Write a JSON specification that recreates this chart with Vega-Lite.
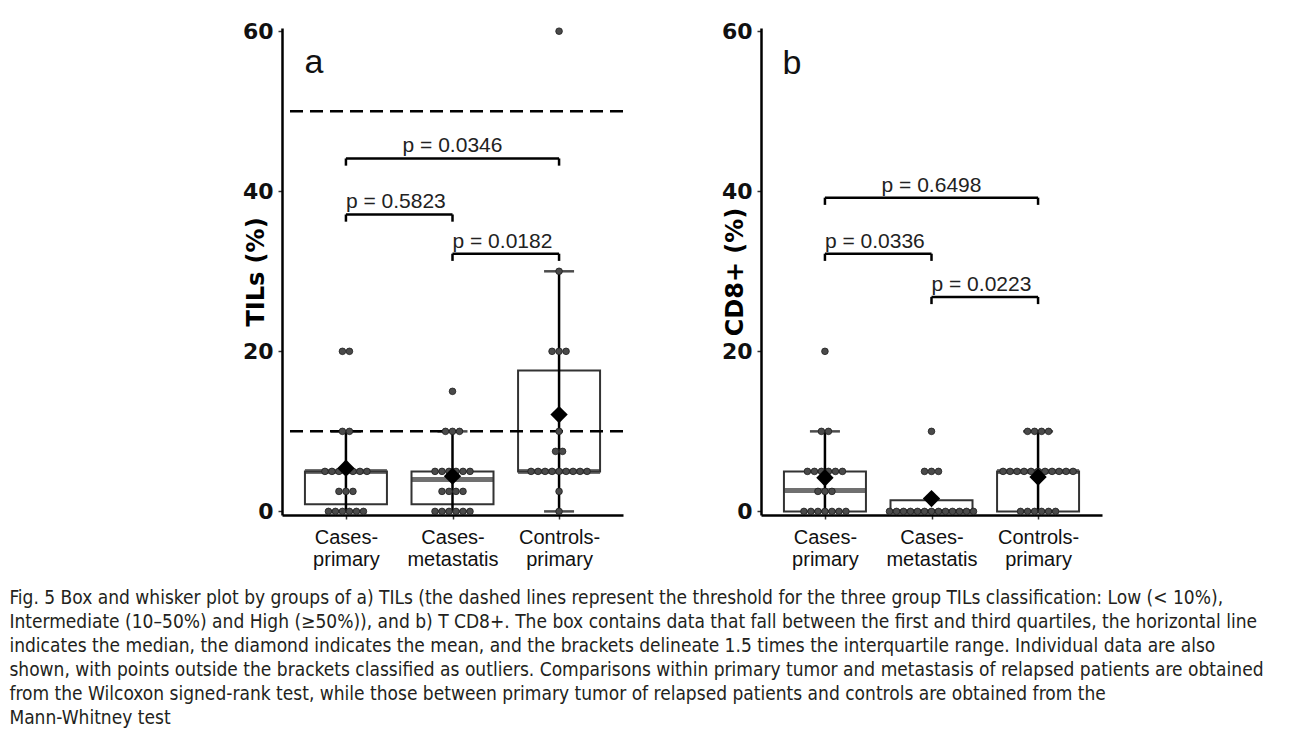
{
  "$schema": "https://vega.github.io/schema/vega-lite/v6.json",
  "background": "white",
  "padding": {"left": 9, "top": 20, "right": 5, "bottom": 5},
  "datasets": {
    "pts": [
      {"p": "a", "g": "Cases-primary", "v": [20, 20, 10, 10, 5, 5, 5, 5, 5, 5, 5, 2.5, 2.5, 2.5, 0, 0, 0, 0, 0, 0]},
      {"p": "a", "g": "Cases-metastatis", "v": [15, 10, 10, 10, 5, 5, 5, 5, 5, 5, 2.5, 2.5, 2.5, 2.5, 0, 0, 0, 0, 0, 0]},
      {"p": "a", "g": "Controls-primary", "v": [60, 30, 20, 20, 20, 10, 7.5, 7.5, 5, 5, 5, 5, 5, 5, 5, 5, 5, 2.5, 0]},
      {"p": "b", "g": "Cases-primary", "v": [20, 10, 10, 5, 5, 5, 5, 5, 5, 2.5, 2.5, 2.5, 0, 0, 0, 0, 0, 0, 0]},
      {"p": "b", "g": "Cases-metastatis", "v": [10, 5, 5, 5, 0, 0, 0, 0, 0, 0, 0, 0, 0, 0, 0, 0, 0]},
      {"p": "b", "g": "Controls-primary", "v": [10, 10, 10, 10, 5, 5, 5, 5, 5, 5, 5, 5, 5, 5, 5, 0, 0, 0, 0, 0, 0]}
    ],
    "box": [
      {"p": "a", "g": "Cases-primary", "q1": 0.9, "q3": 5, "med": 5, "mean": 5.4, "lo": 0, "hi": 10},
      {"p": "a", "g": "Cases-metastatis", "q1": 0.9, "q3": 5, "med": 4, "mean": 4.4, "lo": 0, "hi": 10},
      {"p": "a", "g": "Controls-primary", "q1": 5, "q3": 17.6, "med": 5, "mean": 12.1, "lo": 0, "hi": 30},
      {"p": "b", "g": "Cases-primary", "q1": 0, "q3": 5, "med": 2.6, "mean": 4.2, "lo": 0, "hi": 10},
      {"p": "b", "g": "Cases-metastatis", "q1": 0, "q3": 1.4, "med": 0, "mean": 1.6, "lo": 0, "hi": 0},
      {"p": "b", "g": "Controls-primary", "q1": 0, "q3": 5, "med": 5, "mean": 4.3, "lo": 0, "hi": 10}
    ],
    "br": [
      {"p": "a", "from": "Cases-primary", "to": "Controls-primary", "at": "Cases-metastatis", "y": 44.1, "tip": 43.2, "label": "p = 0.0346", "span": "wide"},
      {"p": "a", "from": "Cases-primary", "to": "Cases-metastatis", "at": "Cases-primary", "y": 37.1, "tip": 36.2, "label": "p = 0.5823", "span": "adjacent"},
      {"p": "a", "from": "Cases-metastatis", "to": "Controls-primary", "at": "Cases-metastatis", "y": 32.2, "tip": 31.3, "label": "p = 0.0182", "span": "adjacent"},
      {"p": "b", "from": "Cases-primary", "to": "Controls-primary", "at": "Cases-metastatis", "y": 39.2, "tip": 38.3, "label": "p = 0.6498", "span": "wide"},
      {"p": "b", "from": "Cases-primary", "to": "Cases-metastatis", "at": "Cases-primary", "y": 32.2, "tip": 31.3, "label": "p = 0.0336", "span": "adjacent"},
      {"p": "b", "from": "Cases-metastatis", "to": "Controls-primary", "at": "Cases-metastatis", "y": 26.8, "tip": 25.9, "label": "p = 0.0223", "span": "adjacent"}
    ]
  },
  "title": {
    "text": [
      "Fig. 5 Box and whisker plot by groups of a) TILs (the dashed lines represent the threshold for the three group TILs classification: Low (< 10%),",
      "Intermediate (10–50%) and High (≥50%)), and b) T CD8+. The box contains data that fall between the first and third quartiles, the horizontal line",
      "indicates the median, the diamond indicates the mean, and the brackets delineate 1.5 times the interquartile range. Individual data are also",
      "shown, with points outside the brackets classified as outliers. Comparisons within primary tumor and metastasis of relapsed patients are obtained",
      "from the Wilcoxon signed-rank test, while those between primary tumor of relapsed patients and controls are obtained from the",
      "Mann-Whitney test"
    ],
    "orient": "bottom",
    "anchor": "start",
    "frame": "bounds",
    "dx": -233,
    "offset": 20,
    "font": "DejaVu Sans Condensed",
    "fontSize": 19,
    "fontWeight": "normal",
    "lineHeight": 24,
    "color": "#231f20"
  },
  "spacing": 96,
  "hconcat": [
    {
      "width": 341,
      "height": 487,
      "layer": [
        {
          "data": {"name": "box"},
          "transform": [{"filter": "datum.p == 'a'"}],
          "mark": {"type": "bar", "width": 82, "fill": "white", "stroke": "#333", "strokeWidth": 2},
          "encoding": {
            "x": {"field": "g", "type": "nominal", "title": null,
              "scale": {"type": "point", "padding": 0.6, "domain": ["Cases-primary", "Cases-metastatis", "Controls-primary"]},
              "axis": {"labelExpr": "datum.label == 'Cases-primary' ? ['Cases-', 'primary'] : datum.label == 'Cases-metastatis' ? ['Cases-', 'metastatis'] : ['Controls-', 'primary']"}},
            "y": {"field": "q1", "type": "quantitative", "title": "TILs (%)",
              "scale": {"domain": [-0.45, 60.4], "nice": false, "zero": false},
              "axis": {"values": [0, 20, 40, 60]}},
            "y2": {"field": "q3"}
          }
        },
        {
          "data": {"values": [{"t": 10}, {"t": 50}]},
          "mark": {"type": "rule", "strokeDash": [13, 7], "strokeWidth": 2.5, "color": "#000"},
          "encoding": {"y": {"field": "t", "type": "quantitative", "title": "TILs (%)"}}
        },
        {
          "data": {"name": "box"},
          "transform": [{"filter": "datum.p == 'a'"}],
          "mark": {"type": "rule", "strokeWidth": 2.5, "color": "#000"},
          "encoding": {
            "x": {"field": "g", "type": "nominal", "title": null},
            "y": {"field": "lo", "type": "quantitative", "title": "TILs (%)"},
            "y2": {"field": "hi"}
          }
        },
        {
          "data": {"name": "box"},
          "transform": [{"filter": "datum.p == 'a'"}, {"fold": ["lo", "hi"], "as": ["end", "cap"]}],
          "mark": {"type": "tick", "orient": "horizontal", "size": 30, "thickness": 2.5, "color": "#000"},
          "encoding": {
            "x": {"field": "g", "type": "nominal", "title": null},
            "y": {"field": "cap", "type": "quantitative", "title": "TILs (%)"}
          }
        },
        {
          "data": {"name": "box"},
          "transform": [{"filter": "datum.p == 'a'"}],
          "mark": {"type": "tick", "orient": "horizontal", "size": 82, "thickness": 5, "color": "#333"},
          "encoding": {
            "x": {"field": "g", "type": "nominal", "title": null},
            "y": {"field": "med", "type": "quantitative", "title": "TILs (%)"}
          }
        },
        {
          "data": {"name": "pts"},
          "transform": [
            {"filter": "datum.p == 'a'"},
            {"flatten": ["v"]},
            {"window": [{"op": "row_number", "as": "k"}], "groupby": ["g", "v"]},
            {"joinaggregate": [{"op": "count", "as": "n"}], "groupby": ["g", "v"]},
            {"calculate": "datum.k - (datum.n + 1) / 2", "as": "off"}
          ],
          "mark": {"type": "circle", "size": 44, "fill": "#4a4a4a", "stroke": "#1e1e1e", "strokeWidth": 0.8, "opacity": 1},
          "encoding": {
            "x": {"field": "g", "type": "nominal", "title": null},
            "xOffset": {"field": "off", "type": "quantitative", "scale": {"domain": [-10, 10], "range": [-70, 70]}},
            "y": {"field": "v", "type": "quantitative", "title": "TILs (%)"}
          }
        },
        {
          "data": {"name": "box"},
          "transform": [{"filter": "datum.p == 'a'"}],
          "mark": {"type": "point", "shape": "diamond", "filled": true, "size": 300, "color": "#000", "opacity": 1},
          "encoding": {
            "x": {"field": "g", "type": "nominal", "title": null},
            "y": {"field": "mean", "type": "quantitative", "title": "TILs (%)"}
          }
        },
        {
          "data": {"name": "br"},
          "transform": [{"filter": "datum.p == 'a'"}],
          "mark": {"type": "rule", "strokeWidth": 2.5, "color": "#000"},
          "encoding": {
            "x": {"field": "from", "type": "nominal", "title": null},
            "x2": {"field": "to"},
            "y": {"field": "y", "type": "quantitative", "title": "TILs (%)"}
          }
        },
        {
          "data": {"name": "br"},
          "transform": [{"filter": "datum.p == 'a'"}, {"fold": ["from", "to"], "as": ["side", "cat"]}],
          "mark": {"type": "rule", "strokeWidth": 2.5, "color": "#000"},
          "encoding": {
            "x": {"field": "cat", "type": "nominal", "title": null},
            "y": {"field": "y", "type": "quantitative", "title": "TILs (%)"},
            "y2": {"field": "tip"}
          }
        },
        {
          "data": {"name": "br"},
          "transform": [{"filter": "datum.p == 'a' && datum.span == 'wide'"}],
          "mark": {"type": "text", "align": "center", "baseline": "alphabetic", "dy": -6, "fontSize": 21, "font": "Liberation Sans", "color": "#222"},
          "encoding": {
            "x": {"field": "at", "type": "nominal", "title": null},
            "y": {"field": "y", "type": "quantitative", "title": "TILs (%)"},
            "text": {"field": "label"}
          }
        },
        {
          "data": {"name": "br"},
          "transform": [{"filter": "datum.p == 'a' && datum.span == 'adjacent'"}],
          "mark": {"type": "text", "align": "left", "baseline": "alphabetic", "dy": -6, "fontSize": 21, "font": "Liberation Sans", "color": "#222"},
          "encoding": {
            "x": {"field": "at", "type": "nominal", "title": null},
            "y": {"field": "y", "type": "quantitative", "title": "TILs (%)"},
            "text": {"field": "label"}
          }
        },
        {
          "data": {"values": [{"letter": "a", "g": "Cases-primary", "y": 54.8}]},
          "mark": {"type": "text", "align": "center", "baseline": "alphabetic", "dx": -32, "fontSize": 34, "font": "Liberation Sans", "color": "#111"},
          "encoding": {
            "x": {"field": "g", "type": "nominal", "title": null},
            "y": {"field": "y", "type": "quantitative", "title": "TILs (%)"},
            "text": {"field": "letter"}
          }
        }
      ]
    },
    {
      "width": 341,
      "height": 487,
      "layer": [
        {
          "data": {"name": "box"},
          "transform": [{"filter": "datum.p == 'b'"}],
          "mark": {"type": "bar", "width": 82, "fill": "white", "stroke": "#333", "strokeWidth": 2},
          "encoding": {
            "x": {"field": "g", "type": "nominal", "title": null,
              "scale": {"type": "point", "padding": 0.6, "domain": ["Cases-primary", "Cases-metastatis", "Controls-primary"]},
              "axis": {"labelExpr": "datum.label == 'Cases-primary' ? ['Cases-', 'primary'] : datum.label == 'Cases-metastatis' ? ['Cases-', 'metastatis'] : ['Controls-', 'primary']"}},
            "y": {"field": "q1", "type": "quantitative", "title": "CD8+ (%)",
              "scale": {"domain": [-0.45, 60.4], "nice": false, "zero": false},
              "axis": {"values": [0, 20, 40, 60]}},
            "y2": {"field": "q3"}
          }
        },
        {
          "data": {"name": "box"},
          "transform": [{"filter": "datum.p == 'b'"}],
          "mark": {"type": "rule", "strokeWidth": 2.5, "color": "#000"},
          "encoding": {
            "x": {"field": "g", "type": "nominal", "title": null},
            "y": {"field": "lo", "type": "quantitative", "title": "CD8+ (%)"},
            "y2": {"field": "hi"}
          }
        },
        {
          "data": {"name": "box"},
          "transform": [{"filter": "datum.p == 'b'"}, {"fold": ["lo", "hi"], "as": ["end", "cap"]}],
          "mark": {"type": "tick", "orient": "horizontal", "size": 30, "thickness": 2.5, "color": "#000"},
          "encoding": {
            "x": {"field": "g", "type": "nominal", "title": null},
            "y": {"field": "cap", "type": "quantitative", "title": "CD8+ (%)"}
          }
        },
        {
          "data": {"name": "box"},
          "transform": [{"filter": "datum.p == 'b'"}],
          "mark": {"type": "tick", "orient": "horizontal", "size": 82, "thickness": 5, "color": "#333"},
          "encoding": {
            "x": {"field": "g", "type": "nominal", "title": null},
            "y": {"field": "med", "type": "quantitative", "title": "CD8+ (%)"}
          }
        },
        {
          "data": {"name": "pts"},
          "transform": [
            {"filter": "datum.p == 'b'"},
            {"flatten": ["v"]},
            {"window": [{"op": "row_number", "as": "k"}], "groupby": ["g", "v"]},
            {"joinaggregate": [{"op": "count", "as": "n"}], "groupby": ["g", "v"]},
            {"calculate": "datum.k - (datum.n + 1) / 2", "as": "off"}
          ],
          "mark": {"type": "circle", "size": 44, "fill": "#4a4a4a", "stroke": "#1e1e1e", "strokeWidth": 0.8, "opacity": 1},
          "encoding": {
            "x": {"field": "g", "type": "nominal", "title": null},
            "xOffset": {"field": "off", "type": "quantitative", "scale": {"domain": [-10, 10], "range": [-70, 70]}},
            "y": {"field": "v", "type": "quantitative", "title": "CD8+ (%)"}
          }
        },
        {
          "data": {"name": "box"},
          "transform": [{"filter": "datum.p == 'b'"}],
          "mark": {"type": "point", "shape": "diamond", "filled": true, "size": 300, "color": "#000", "opacity": 1},
          "encoding": {
            "x": {"field": "g", "type": "nominal", "title": null},
            "y": {"field": "mean", "type": "quantitative", "title": "CD8+ (%)"}
          }
        },
        {
          "data": {"name": "br"},
          "transform": [{"filter": "datum.p == 'b'"}],
          "mark": {"type": "rule", "strokeWidth": 2.5, "color": "#000"},
          "encoding": {
            "x": {"field": "from", "type": "nominal", "title": null},
            "x2": {"field": "to"},
            "y": {"field": "y", "type": "quantitative", "title": "CD8+ (%)"}
          }
        },
        {
          "data": {"name": "br"},
          "transform": [{"filter": "datum.p == 'b'"}, {"fold": ["from", "to"], "as": ["side", "cat"]}],
          "mark": {"type": "rule", "strokeWidth": 2.5, "color": "#000"},
          "encoding": {
            "x": {"field": "cat", "type": "nominal", "title": null},
            "y": {"field": "y", "type": "quantitative", "title": "CD8+ (%)"},
            "y2": {"field": "tip"}
          }
        },
        {
          "data": {"name": "br"},
          "transform": [{"filter": "datum.p == 'b' && datum.span == 'wide'"}],
          "mark": {"type": "text", "align": "center", "baseline": "alphabetic", "dy": -6, "fontSize": 21, "font": "Liberation Sans", "color": "#222"},
          "encoding": {
            "x": {"field": "at", "type": "nominal", "title": null},
            "y": {"field": "y", "type": "quantitative", "title": "CD8+ (%)"},
            "text": {"field": "label"}
          }
        },
        {
          "data": {"name": "br"},
          "transform": [{"filter": "datum.p == 'b' && datum.span == 'adjacent'"}],
          "mark": {"type": "text", "align": "left", "baseline": "alphabetic", "dy": -6, "fontSize": 21, "font": "Liberation Sans", "color": "#222"},
          "encoding": {
            "x": {"field": "at", "type": "nominal", "title": null},
            "y": {"field": "y", "type": "quantitative", "title": "CD8+ (%)"},
            "text": {"field": "label"}
          }
        },
        {
          "data": {"values": [{"letter": "b", "g": "Cases-primary", "y": 54.6}]},
          "mark": {"type": "text", "align": "center", "baseline": "alphabetic", "dx": -33, "fontSize": 34, "font": "Liberation Sans", "color": "#111"},
          "encoding": {
            "x": {"field": "g", "type": "nominal", "title": null},
            "y": {"field": "y", "type": "quantitative", "title": "CD8+ (%)"},
            "text": {"field": "letter"}
          }
        }
      ]
    }
  ],
  "config": {
    "view": {"stroke": null},
    "axis": {"grid": false, "domainColor": "#000", "domainWidth": 2.5, "tickColor": "#333", "tickWidth": 1.5, "tickSize": 4, "labelColor": "#111", "titleColor": "#000"},
    "axisX": {"labelFont": "Liberation Sans", "labelFontSize": 20, "labelAngle": 0, "labelPadding": 8, "labelLineHeight": 22, "labelBaseline": "top"},
    "axisY": {"labelFont": "DejaVu Sans", "labelFontSize": 22, "labelFontWeight": "bold", "labelPadding": 5, "titleFont": "DejaVu Sans", "titleFontSize": 24, "titleFontWeight": "bold", "titlePadding": -26}
  }
}
